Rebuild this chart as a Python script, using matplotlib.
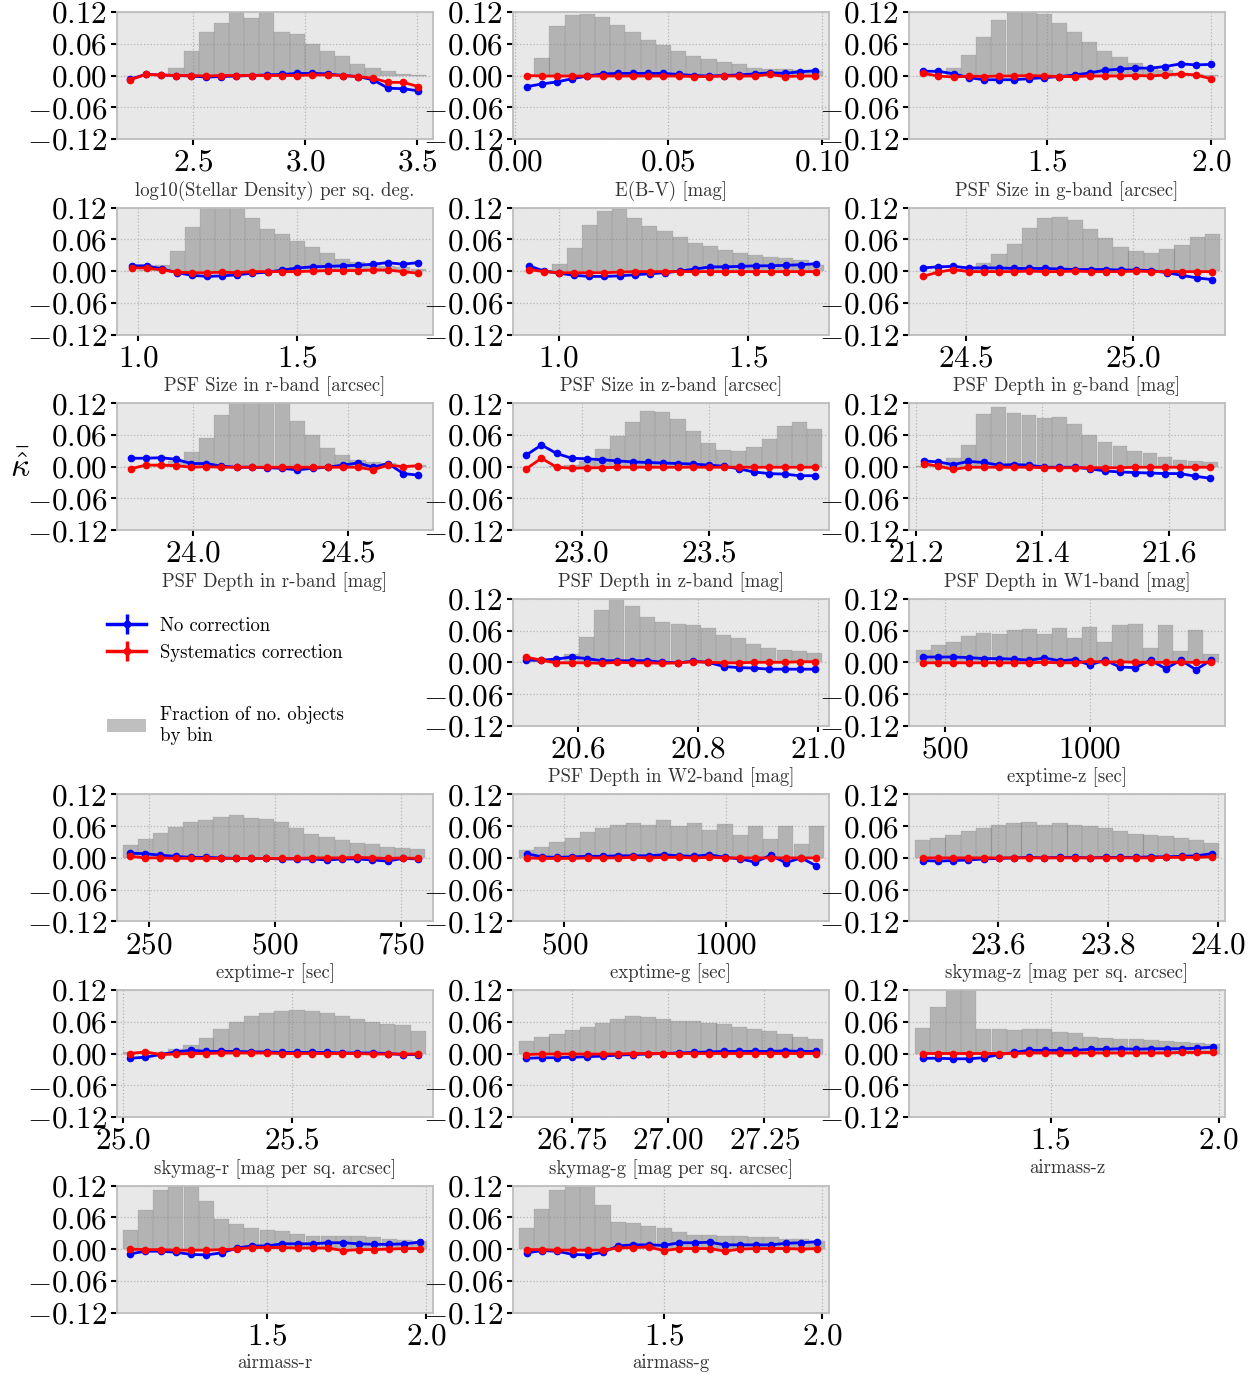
#!/usr/bin/env python3
import matplotlib as mpl
mpl.use("Agg")
import matplotlib.pyplot as plt
import matplotlib.patches as mpatches
from matplotlib.lines import Line2D

mpl.rcParams["font.family"] = "cmr10"
mpl.rcParams["mathtext.fontset"] = "cm"
mpl.rcParams["axes.unicode_minus"] = True

FIG_W, FIG_H = 1260, 1374

# ---- data: bin centres, fraction of objects per bin, mean kappa (no corr / corr) ----
stellar_x = [2.218, 2.286, 2.354, 2.422, 2.490, 2.558, 2.625, 2.693, 2.761, 2.829, 2.897, 2.965, 3.033, 3.101, 3.169, 3.236, 3.304, 3.372, 3.440, 3.508]
stellar_hist = [0, 0, 0.001, 0.014, 0.046, 0.082, 0.100, 0.130, 0.109, 0.125, 0.082, 0.078, 0.060, 0.046, 0.037, 0.022, 0.014, 0.008, 0.002, 0.001]
stellar_nocorr = [-0.007, 0.002, 0.001, 0.000, -0.001, -0.003, -0.002, -0.001, 0.000, 0.001, 0.002, 0.004, 0.004, 0.003, 0.000, -0.002, -0.008, -0.024, -0.025, -0.029]
stellar_corr = [-0.008, 0.002, 0.001, 0.000, 0.000, -0.001, 0.000, 0.000, 0.000, 0.000, 0.000, 0.000, 0.001, 0.001, 0.000, -0.002, -0.005, -0.013, -0.013, -0.021]

ebv_x = [0.0038, 0.0088, 0.0137, 0.0187, 0.0236, 0.0286, 0.0335, 0.0385, 0.0434, 0.0484, 0.0533, 0.0583, 0.0632, 0.0682, 0.0731, 0.0781, 0.0830, 0.0880, 0.0929, 0.0979]
ebv_hist = [0, 0.034, 0.094, 0.114, 0.117, 0.110, 0.096, 0.082, 0.068, 0.057, 0.046, 0.037, 0.032, 0.026, 0.021, 0.015, 0.013, 0.012, 0.010, 0.009]
ebv_nocorr = [-0.021, -0.016, -0.012, -0.006, -0.001, 0.003, 0.004, 0.004, 0.004, 0.004, 0.002, 0.000, -0.001, 0.000, 0.001, 0.003, 0.005, 0.004, 0.007, 0.009]
ebv_corr = [0.000, -0.001, -0.001, -0.001, -0.001, -0.001, -0.001, -0.001, -0.001, -0.001, -0.001, -0.002, -0.002, -0.001, -0.001, -0.001, 0.002, -0.002, -0.001, -0.001]

psfg_x = [1.121, 1.167, 1.214, 1.260, 1.306, 1.352, 1.399, 1.445, 1.491, 1.537, 1.584, 1.630, 1.676, 1.722, 1.769, 1.815, 1.861, 1.907, 1.954, 2.000]
psfg_hist = [0, 0, 0.015, 0.039, 0.072, 0.104, 0.125, 0.130, 0.117, 0.100, 0.082, 0.064, 0.046, 0.035, 0.023, 0.015, 0.010, 0.005, 0.002, 0.001]
psfg_nocorr = [0.008, 0.008, 0.003, -0.004, -0.008, -0.008, -0.008, -0.006, -0.004, -0.002, 0.001, 0.005, 0.010, 0.012, 0.014, 0.014, 0.017, 0.022, 0.020, 0.021]
psfg_corr = [0.004, -0.001, -0.003, -0.001, -0.002, -0.001, -0.001, 0.000, -0.001, -0.002, -0.002, -0.001, -0.001, -0.001, 0.000, -0.001, 0.001, 0.003, 0.001, -0.006]

psfr_x = [0.980, 1.027, 1.075, 1.122, 1.169, 1.217, 1.264, 1.311, 1.358, 1.406, 1.453, 1.500, 1.548, 1.595, 1.642, 1.690, 1.737, 1.784, 1.831, 1.879]
psfr_hist = [0, 0.003, 0.011, 0.038, 0.083, 0.130, 0.140, 0.125, 0.100, 0.080, 0.070, 0.057, 0.046, 0.034, 0.022, 0.017, 0.013, 0.010, 0.008, 0.004]
psfr_nocorr = [0.010, 0.010, 0.004, -0.003, -0.008, -0.010, -0.009, -0.007, -0.004, -0.002, 0.002, 0.006, 0.008, 0.009, 0.010, 0.011, 0.013, 0.016, 0.013, 0.016]
psfr_corr = [0.006, 0.006, 0.002, -0.002, -0.003, -0.003, -0.002, -0.003, -0.001, -0.001, -0.001, -0.001, 0.000, 0.001, 0.001, 0.001, 0.002, 0.002, -0.001, -0.004]

psfz_x = [0.921, 0.961, 1.001, 1.041, 1.081, 1.121, 1.161, 1.201, 1.241, 1.281, 1.321, 1.361, 1.401, 1.441, 1.481, 1.521, 1.561, 1.601, 1.641, 1.681]
psfz_hist = [0, 0.003, 0.014, 0.044, 0.088, 0.113, 0.117, 0.100, 0.086, 0.075, 0.064, 0.054, 0.047, 0.040, 0.035, 0.030, 0.026, 0.024, 0.021, 0.011]
psfz_nocorr = [0.010, 0.000, -0.004, -0.008, -0.010, -0.010, -0.009, -0.007, -0.005, -0.003, 0.000, 0.004, 0.008, 0.008, 0.009, 0.010, 0.010, 0.011, 0.012, 0.014]
psfz_corr = [0.003, -0.001, -0.003, -0.003, -0.003, -0.003, -0.002, -0.001, -0.001, -0.001, -0.001, -0.001, -0.001, -0.001, -0.001, -0.001, -0.001, -0.001, -0.001, -0.001]

depg_x = [24.370, 24.416, 24.461, 24.507, 24.552, 24.598, 24.644, 24.689, 24.735, 24.780, 24.826, 24.872, 24.917, 24.963, 25.008, 25.054, 25.100, 25.145, 25.191, 25.236]
depg_hist = [0, 0, 0.002, 0.005, 0.016, 0.032, 0.052, 0.081, 0.100, 0.103, 0.096, 0.080, 0.063, 0.045, 0.038, 0.035, 0.041, 0.050, 0.064, 0.070]
depg_nocorr = [0.006, 0.008, 0.009, 0.006, 0.006, 0.006, 0.005, 0.005, 0.005, 0.004, 0.003, 0.003, 0.003, 0.002, 0.002, 0.001, -0.003, -0.008, -0.013, -0.016]
depg_corr = [-0.010, -0.002, 0.003, -0.001, -0.001, -0.001, -0.001, 0.000, -0.001, -0.001, 0.000, -0.001, -0.001, -0.001, 0.000, -0.001, -0.001, -0.001, -0.001, -0.001]

depr_x = [23.797, 23.846, 23.895, 23.944, 23.993, 24.042, 24.091, 24.140, 24.189, 24.238, 24.288, 24.337, 24.386, 24.435, 24.484, 24.533, 24.582, 24.631, 24.680, 24.729]
depr_hist = [0, 0, 0.003, 0.010, 0.027, 0.055, 0.097, 0.130, 0.140, 0.135, 0.125, 0.087, 0.060, 0.036, 0.022, 0.013, 0.009, 0.007, 0.004, 0.003]
depr_nocorr = [0.016, 0.016, 0.017, 0.014, 0.006, 0.006, 0.001, -0.001, -0.001, -0.002, -0.003, -0.006, -0.003, -0.001, 0.003, 0.007, -0.001, 0.006, -0.013, -0.016]
depr_corr = [-0.004, 0.003, 0.003, 0.002, -0.001, 0.000, -0.001, -0.001, -0.001, -0.001, -0.001, -0.001, -0.001, -0.001, -0.001, -0.001, -0.006, 0.003, 0.000, 0.002]

depz_x = [22.782, 22.842, 22.902, 22.961, 23.021, 23.081, 23.141, 23.201, 23.260, 23.320, 23.380, 23.440, 23.500, 23.559, 23.619, 23.679, 23.739, 23.799, 23.858, 23.918]
depz_hist = [0, 0, 0.002, 0.003, 0.010, 0.033, 0.058, 0.085, 0.106, 0.104, 0.090, 0.068, 0.045, 0.031, 0.029, 0.037, 0.052, 0.076, 0.085, 0.071]
depz_nocorr = [0.022, 0.041, 0.025, 0.016, 0.015, 0.013, 0.011, 0.009, 0.008, 0.007, 0.006, 0.005, 0.003, 0.001, -0.004, -0.010, -0.013, -0.014, -0.017, -0.017]
depz_corr = [-0.004, 0.016, -0.001, -0.003, -0.002, -0.002, -0.001, -0.001, -0.001, -0.001, -0.001, -0.001, -0.001, -0.001, -0.001, -0.001, -0.001, -0.001, -0.001, -0.001]

w1_x = [21.212, 21.235, 21.259, 21.283, 21.307, 21.331, 21.355, 21.379, 21.403, 21.427, 21.451, 21.475, 21.499, 21.523, 21.546, 21.570, 21.594, 21.618, 21.642, 21.666]
w1_hist = [0.002, 0.004, 0.017, 0.041, 0.100, 0.112, 0.102, 0.098, 0.092, 0.093, 0.081, 0.060, 0.046, 0.040, 0.030, 0.026, 0.019, 0.013, 0.011, 0.009]
w1_nocorr = [0.011, 0.009, 0.004, 0.010, 0.008, 0.003, 0.004, 0.003, -0.001, -0.001, -0.001, -0.004, -0.008, -0.010, -0.011, -0.012, -0.013, -0.013, -0.018, -0.022]
w1_corr = [0.006, 0.001, -0.005, -0.001, -0.001, -0.001, -0.001, -0.001, -0.002, -0.002, -0.002, -0.002, -0.002, -0.002, -0.001, -0.001, -0.001, -0.001, -0.001, -0.001]

w2_x = [20.514, 20.539, 20.564, 20.590, 20.615, 20.640, 20.665, 20.691, 20.716, 20.741, 20.767, 20.792, 20.817, 20.843, 20.868, 20.893, 20.918, 20.944, 20.969, 20.994]
w2_hist = [0, 0.002, 0.003, 0.015, 0.048, 0.099, 0.130, 0.107, 0.085, 0.076, 0.073, 0.071, 0.064, 0.051, 0.045, 0.034, 0.027, 0.024, 0.022, 0.017]
w2_nocorr = [0.004, 0.004, 0.006, 0.010, 0.007, 0.003, 0.003, 0.003, 0.003, 0.000, -0.001, 0.002, 0.000, -0.008, -0.010, -0.011, -0.013, -0.013, -0.013, -0.013]
w2_corr = [0.010, 0.004, -0.001, -0.001, -0.001, -0.002, 0.000, -0.001, -0.001, -0.002, -0.001, 0.001, 0.000, -0.001, -0.001, 0.000, 0.000, 0.000, 0.001, 0.001]

expz_x = [426, 478, 530, 582, 634, 687, 739, 791, 843, 895, 947, 999, 1051, 1103, 1155, 1208, 1260, 1312, 1364, 1416]
expz_hist = [0.023, 0.032, 0.039, 0.050, 0.056, 0.054, 0.061, 0.063, 0.054, 0.065, 0.046, 0.067, 0.039, 0.070, 0.072, 0.027, 0.070, 0.021, 0.061, 0.016]
expz_nocorr = [0.010, 0.010, 0.010, 0.009, 0.007, 0.007, 0.006, 0.004, 0.008, 0.003, 0.005, -0.005, 0.004, -0.009, -0.010, 0.004, -0.012, 0.004, -0.014, 0.004]
expz_corr = [-0.001, -0.001, -0.001, -0.001, -0.001, -0.001, -0.001, -0.001, 0.000, -0.001, -0.001, 0.002, 0.000, 0.001, 0.000, 0.000, 0.000, 0.000, 0.000, 0.000]

expr_x = [213, 243, 273, 303, 333, 363, 393, 423, 453, 483, 513, 543, 573, 603, 633, 663, 693, 723, 753, 783]
expr_hist = [0.025, 0.036, 0.047, 0.058, 0.068, 0.072, 0.078, 0.081, 0.076, 0.073, 0.068, 0.057, 0.046, 0.039, 0.034, 0.028, 0.027, 0.021, 0.019, 0.016]
expr_nocorr = [0.009, 0.008, 0.005, 0.003, 0.001, 0.001, 0.000, -0.001, -0.001, -0.001, -0.002, -0.002, -0.002, -0.004, -0.002, -0.002, -0.004, -0.006, -0.001, -0.002]
expr_corr = [0.003, 0.000, 0.000, -0.001, -0.001, -0.001, -0.001, -0.001, -0.001, -0.001, -0.001, -0.001, 0.000, 0.000, 0.000, 0.001, 0.000, -0.001, 0.000, -0.001]

expg_x = [383, 430, 477, 525, 572, 619, 666, 713, 761, 808, 855, 902, 949, 997, 1044, 1091, 1138, 1185, 1233, 1280]
expg_hist = [0.015, 0.021, 0.030, 0.038, 0.048, 0.056, 0.062, 0.066, 0.062, 0.071, 0.061, 0.066, 0.053, 0.065, 0.043, 0.061, 0.035, 0.061, 0.027, 0.060]
expg_nocorr = [0.008, 0.002, 0.001, 0.002, 0.003, 0.003, 0.004, 0.004, 0.004, 0.006, 0.004, 0.003, 0.006, 0.001, -0.002, -0.008, 0.005, -0.009, 0.000, -0.015]
expg_corr = [0.000, -0.001, -0.001, -0.001, 0.000, 0.000, 0.000, 0.001, 0.000, 0.001, 0.001, 0.000, 0.001, 0.000, 0.000, 0.000, 0.000, 0.000, 0.000, 0.000]

skyz_x = [23.463, 23.491, 23.518, 23.546, 23.574, 23.601, 23.629, 23.656, 23.684, 23.712, 23.739, 23.767, 23.795, 23.822, 23.850, 23.877, 23.905, 23.933, 23.960, 23.988]
skyz_hist = [0.033, 0.038, 0.044, 0.050, 0.057, 0.063, 0.066, 0.068, 0.063, 0.066, 0.063, 0.060, 0.057, 0.050, 0.046, 0.043, 0.041, 0.037, 0.033, 0.029]
skyz_nocorr = [-0.005, -0.006, -0.005, -0.004, -0.002, -0.001, 0.000, 0.001, 0.000, 0.001, 0.001, 0.000, 0.001, 0.001, 0.001, 0.002, 0.002, 0.003, 0.004, 0.008]
skyz_corr = [0.000, 0.000, 0.000, 0.000, 0.000, 0.000, 0.000, 0.000, 0.000, 0.000, 0.000, 0.000, 0.000, 0.000, 0.000, 0.000, 0.001, 0.001, 0.001, 0.002]

skyr_x = [25.021, 25.066, 25.111, 25.156, 25.201, 25.246, 25.290, 25.335, 25.380, 25.425, 25.470, 25.515, 25.560, 25.605, 25.649, 25.694, 25.739, 25.784, 25.829, 25.874]
skyr_hist = [0.002, 0.003, 0.003, 0.009, 0.016, 0.030, 0.047, 0.059, 0.070, 0.077, 0.081, 0.082, 0.080, 0.077, 0.071, 0.066, 0.060, 0.056, 0.054, 0.043]
skyr_nocorr = [-0.009, -0.007, -0.002, 0.003, 0.006, 0.004, 0.004, 0.004, 0.003, 0.003, 0.002, 0.002, 0.002, 0.002, 0.001, 0.001, 0.001, 0.000, -0.002, -0.002]
skyr_corr = [0.000, 0.003, -0.002, -0.001, 0.000, 0.000, 0.001, 0.001, 0.001, 0.001, 0.000, 0.000, 0.000, 0.000, 0.000, 0.000, -0.001, -0.001, -0.001, -0.001]

skyg_x = [26.631, 26.671, 26.710, 26.750, 26.789, 26.829, 26.868, 26.908, 26.948, 26.987, 27.027, 27.066, 27.106, 27.145, 27.185, 27.225, 27.264, 27.304, 27.343, 27.383]
skyg_hist = [0.023, 0.032, 0.037, 0.044, 0.051, 0.057, 0.065, 0.071, 0.069, 0.065, 0.061, 0.061, 0.058, 0.055, 0.051, 0.047, 0.043, 0.037, 0.032, 0.027]
skyg_nocorr = [-0.009, -0.008, -0.008, -0.007, -0.006, -0.005, -0.003, -0.002, -0.001, 0.000, 0.001, 0.002, 0.003, 0.004, 0.004, 0.004, 0.004, 0.005, 0.004, 0.004]
skyg_corr = [-0.002, -0.001, -0.001, -0.001, -0.001, -0.001, -0.001, 0.000, 0.000, 0.000, 0.000, 0.000, 0.000, 0.000, 0.000, 0.000, 0.000, 0.000, 0.000, 0.000]

airz_x = [1.120, 1.165, 1.211, 1.256, 1.301, 1.347, 1.392, 1.437, 1.483, 1.528, 1.573, 1.619, 1.664, 1.709, 1.755, 1.800, 1.845, 1.891, 1.936, 1.982]
airz_hist = [0.049, 0.087, 0.140, 0.135, 0.046, 0.046, 0.045, 0.047, 0.046, 0.041, 0.038, 0.032, 0.030, 0.028, 0.027, 0.025, 0.023, 0.022, 0.020, 0.018]
airz_nocorr = [-0.009, -0.009, -0.010, -0.010, -0.008, -0.002, 0.002, 0.006, 0.006, 0.006, 0.006, 0.008, 0.008, 0.009, 0.008, 0.009, 0.009, 0.009, 0.010, 0.012]
airz_corr = [0.000, 0.000, 0.000, 0.000, 0.000, 0.000, 0.000, 0.001, 0.001, 0.001, 0.001, 0.001, 0.001, 0.001, 0.001, 0.001, 0.001, 0.002, 0.002, 0.002]

airr_x = [1.071, 1.118, 1.166, 1.214, 1.262, 1.310, 1.358, 1.406, 1.453, 1.501, 1.549, 1.597, 1.645, 1.693, 1.740, 1.788, 1.836, 1.884, 1.932, 1.980]
airr_hist = [0.037, 0.074, 0.112, 0.130, 0.125, 0.090, 0.057, 0.047, 0.040, 0.037, 0.034, 0.028, 0.025, 0.024, 0.025, 0.024, 0.022, 0.020, 0.018, 0.015]
airr_nocorr = [-0.009, -0.004, -0.004, -0.006, -0.010, -0.011, -0.007, 0.002, 0.006, 0.006, 0.010, 0.010, 0.010, 0.012, 0.012, 0.010, 0.009, 0.009, 0.010, 0.013]
airr_corr = [0.000, -0.001, -0.001, -0.002, -0.002, -0.002, -0.001, 0.000, 0.003, 0.003, 0.003, 0.002, 0.002, 0.002, -0.003, -0.001, -0.001, 0.000, 0.001, 0.001]

airg_x = [1.067, 1.115, 1.163, 1.212, 1.260, 1.308, 1.356, 1.404, 1.452, 1.501, 1.549, 1.597, 1.645, 1.693, 1.741, 1.790, 1.838, 1.886, 1.934, 1.983]
airg_hist = [0.040, 0.076, 0.111, 0.130, 0.125, 0.084, 0.052, 0.049, 0.044, 0.040, 0.033, 0.026, 0.026, 0.024, 0.024, 0.023, 0.022, 0.020, 0.019, 0.015]
airg_nocorr = [-0.007, -0.003, -0.004, -0.010, -0.011, -0.006, 0.006, 0.008, 0.008, 0.007, 0.012, 0.012, 0.013, 0.008, 0.008, 0.008, 0.008, 0.011, 0.012, 0.014]
airg_corr = [-0.001, -0.001, -0.002, -0.002, -0.002, -0.002, 0.002, 0.003, 0.004, -0.003, 0.001, 0.001, 0.001, -0.004, 0.000, 0.001, 0.001, 0.001, 0.000, 0.001]

# axis labels, limits, ticks
xlabels = [
    "log10(Stellar Density) per sq. deg.", "E(B-V) [mag]", "PSF Size in g-band [arcsec]",
    "PSF Size in r-band [arcsec]", "PSF Size in z-band [arcsec]", "PSF Depth in g-band [mag]",
    "PSF Depth in r-band [mag]", "PSF Depth in z-band [mag]", "PSF Depth in W1-band [mag]",
    "PSF Depth in W2-band [mag]", "exptime-z [sec]",
    "exptime-r [sec]", "exptime-g [sec]", "skymag-z [mag per sq. arcsec]",
    "skymag-r [mag per sq. arcsec]", "skymag-g [mag per sq. arcsec]", "airmass-z",
    "airmass-r", "airmass-g",
]
xlims = [
    (2.158, 3.573), (-0.0007, 0.1024), (1.077, 2.043),
    (0.933, 1.926), (0.879, 1.715), (24.329, 25.274),
    (23.753, 24.776), (22.730, 23.974), (21.189, 21.689),
    (20.4925, 21.018), (377, 1464),
    (187, 813), (341, 1319), (23.438, 24.012),
    (24.982, 25.918), (26.596, 27.418), (1.0786, 2.019),
    (1.0293, 2.022), (1.0243, 2.021),
]
xtick_labels = [
    ["2.5", "3.0", "3.5"], ["0.00", "0.05", "0.10"], ["1.5", "2.0"],
    ["1.0", "1.5"], ["1.0", "1.5"], ["24.5", "25.0"],
    ["24.0", "24.5"], ["23.0", "23.5"], ["21.2", "21.4", "21.6"],
    ["20.6", "20.8", "21.0"], ["500", "1000"],
    ["250", "500", "750"], ["500", "1000"], ["23.6", "23.8", "24.0"],
    ["25.0", "25.5"], ["26.75", "27.00", "27.25"], ["1.5", "2.0"],
    ["1.5", "2.0"], ["1.5", "2.0"],
]
ytick_labels = ["-0.12", "-0.06", "0.00", "0.06", "0.12"]

panels = [
    (stellar_x, stellar_hist, stellar_nocorr, stellar_corr),
    (ebv_x, ebv_hist, ebv_nocorr, ebv_corr),
    (psfg_x, psfg_hist, psfg_nocorr, psfg_corr),
    (psfr_x, psfr_hist, psfr_nocorr, psfr_corr),
    (psfz_x, psfz_hist, psfz_nocorr, psfz_corr),
    (depg_x, depg_hist, depg_nocorr, depg_corr),
    (depr_x, depr_hist, depr_nocorr, depr_corr),
    (depz_x, depz_hist, depz_nocorr, depz_corr),
    (w1_x, w1_hist, w1_nocorr, w1_corr),
    (w2_x, w2_hist, w2_nocorr, w2_corr),
    (expz_x, expz_hist, expz_nocorr, expz_corr),
    (expr_x, expr_hist, expr_nocorr, expr_corr),
    (expg_x, expg_hist, expg_nocorr, expg_corr),
    (skyz_x, skyz_hist, skyz_nocorr, skyz_corr),
    (skyr_x, skyr_hist, skyr_nocorr, skyr_corr),
    (skyg_x, skyg_hist, skyg_nocorr, skyg_corr),
    (airz_x, airz_hist, airz_nocorr, airz_corr),
    (airr_x, airr_hist, airr_nocorr, airr_corr),
    (airg_x, airg_hist, airg_nocorr, airg_corr),
]
# grid slots (row, col) for each panel; (3, 0) holds the legend
slots = [(0, 0), (0, 1), (0, 2), (1, 0), (1, 1), (1, 2), (2, 0), (2, 1), (2, 2),
         (3, 1), (3, 2), (4, 0), (4, 1), (4, 2), (5, 0), (5, 1), (5, 2), (6, 0), (6, 1)]

COL_LEFT = [117, 513, 909]
ROW_TOP = 12
ROW_STEP = 195.6
AX_W, AX_H = 316, 127
BG = "#e8e8e8"
TICK_FS = 22.5
LABEL_FS = 13.5


def axes_rect(row, col):
    left = COL_LEFT[col] / FIG_W
    top = ROW_TOP + row * ROW_STEP
    bottom = 1 - (top + AX_H) / FIG_H
    return [left, bottom, AX_W / FIG_W, AX_H / FIG_H]


def draw_panel(fig, rect, x, hist, nocorr, corr, xlabel, xlim, xt):
    ax = fig.add_axes(rect)
    ax.set_facecolor(BG)
    ax.set_axisbelow(True)
    width = x[1] - x[0]
    # very thin edges: faint seams between bins like the original
    ax.bar(x, hist, width=width, color="gray", edgecolor="gray", alpha=0.5,
           linewidth=0.25, zorder=1)
    ax.plot(x, nocorr, "-o", color="blue", lw=2, ms=4.5, zorder=3)
    ax.plot(x, corr, "-o", color="red", lw=2, ms=4.5, zorder=4)
    ax.set_ylim(-0.12, 0.12)
    ax.set_xlim(*xlim)
    ax.set_yticks([float(v) for v in ytick_labels], [f"${v}$" for v in ytick_labels])
    ax.set_xticks([float(v) for v in xt], [f"${v}$" for v in xt])
    ax.tick_params(labelsize=TICK_FS, direction="out", length=4, width=1.5,
                   color="black", pad=3)
    ax.grid(True, linestyle=":", color="#b5b5b5", linewidth=0.9)
    for sp in ax.spines.values():
        sp.set_color("#bdbdbd")
        sp.set_linewidth(1.3)
    ax.set_xlabel(xlabel, fontsize=LABEL_FS, color="0.2", labelpad=3)
    return ax


def main():
    fig = plt.figure(figsize=(FIG_W / 100, FIG_H / 100), dpi=100)

    for (x, hist, nocorr, corr), (row, col), xlabel, xlim, xt in zip(
            panels, slots, xlabels, xlims, xtick_labels):
        draw_panel(fig, axes_rect(row, col), x, hist, nocorr, corr, xlabel, xlim, xt)

    fig.text(20 / FIG_W, 1 - 466 / FIG_H, r"$\bar{\hat{\kappa}}$", fontsize=24,
             ha="center", va="center")

    # legend in the empty slot (row 3, col 0)
    h_blue = (Line2D([], [], color="blue", lw=2.5, marker="o", ms=4.5),
              Line2D([], [], color="blue", lw=0, marker="|", ms=14, mew=2.5))
    h_red = (Line2D([], [], color="red", lw=2.5, marker="o", ms=4.5),
             Line2D([], [], color="red", lw=0, marker="|", ms=14, mew=2.5))
    fig.legend([h_blue, h_red], ["No correction", "Systematics correction"],
               loc="upper left", bbox_to_anchor=(107 / FIG_W, 1 - 617 / FIG_H),
               frameon=False, fontsize=LABEL_FS, handlelength=2.1, handletextpad=0.75,
               borderpad=0, borderaxespad=0, labelspacing=0.46)
    patch = mpatches.Patch(facecolor="gray", alpha=0.5, linewidth=0)
    fig.legend([patch], ["Fraction of no. objects\nby bin"],
               loc="upper left", bbox_to_anchor=(107 / FIG_W, 1 - 706 / FIG_H),
               frameon=False, fontsize=LABEL_FS, handlelength=2.1, handletextpad=0.75,
               borderpad=0, borderaxespad=0)

    fig.savefig("out.png", dpi=100)
    plt.close(fig)


if __name__ == "__main__":
    main()
